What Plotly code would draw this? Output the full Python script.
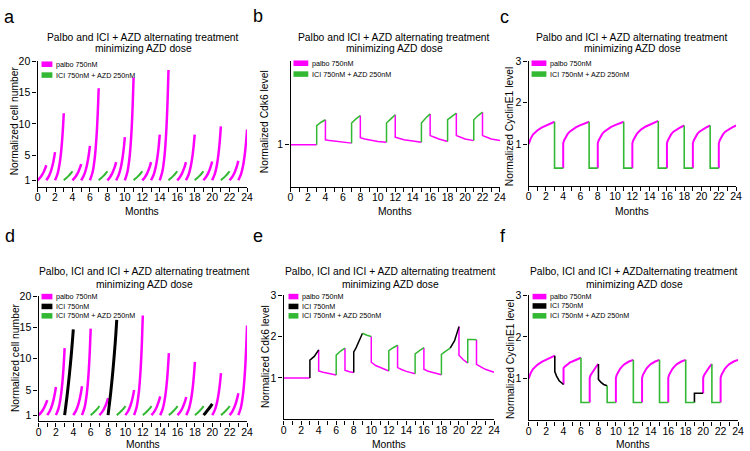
import plotly.graph_objects as go

MAGENTA = "#FF00FF"
GREEN = "#33B833"
BLACK = "#000000"
FONT = "Liberation Sans, Arial, sans-serif"

W, H = 750, 451

MONTH_TICKS = list(range(0, 25))
MONTH_LABELS = [str(m) if m % 2 == 0 else "" for m in MONTH_TICKS]

# ---- cell number panels (a, d): each curve runs over one month
GROWTH_FRAC = [0, 0.3, 0.55, 0.75, 0.9, 1.0]

A_PALBO_START = [0, 1, 2, 4, 5, 6, 8, 9, 10, 12, 13, 14, 16, 17, 19, 20, 22, 23]
A_PALBO_VALUES = [
    [1, 1.44, 1.96, 2.50, 3.01, 3.4],
    [1, 1.67, 2.55, 3.59, 4.64, 5.5],
    [1, 2.09, 3.87, 6.33, 9.15, 11.7],
    [1, 1.47, 2.02, 2.61, 3.17, 3.6],
    [1, 1.75, 2.80, 4.07, 5.39, 6.5],
    [1, 2.28, 4.55, 7.89, 11.9, 15.7],
    [1, 1.50, 2.11, 2.78, 3.40, 3.9],
    [1, 1.86, 3.12, 4.71, 6.42, 7.9],
    [1, 2.36, 4.81, 8.52, 13.1, 17.4],
    [1, 1.50, 2.11, 2.78, 3.40, 3.9],
    [1, 1.89, 3.20, 4.89, 6.71, 8.3],
    [1, 2.40, 4.99, 8.95, 13.9, 18.6],
    [1, 1.50, 2.11, 2.78, 3.40, 3.9],
    [1, 1.89, 3.20, 4.89, 6.71, 8.3],
    [1, 1.52, 2.14, 2.83, 3.48, 4.0],
    [1, 1.97, 3.47, 5.46, 7.66, 9.6],
    [1, 1.53, 2.17, 2.88, 3.56, 4.1],
    [1, 1.94, 3.37, 5.24, 7.29, 9.1],
]
A_COMBO_START = [3, 7, 11, 15, 18, 21]
COMBO_GROWTH = [1, 1.35, 1.70, 2.00, 2.25, 2.45]

D_PALBO_START = [0, 1, 2, 4, 5, 7, 10, 11, 13, 14, 16, 17, 20, 22, 23]
D_PALBO_VALUES = [
    [1, 1.44, 1.96, 2.50, 3.01, 3.4],
    [1, 1.67, 2.55, 3.59, 4.64, 5.5],
    [1, 2.09, 3.87, 6.33, 9.15, 11.7],
    [1, 1.68, 2.58, 3.64, 4.72, 5.6],
    [1, 2.24, 4.40, 7.55, 11.3, 14.8],
    [1, 1.48, 2.05, 2.67, 3.25, 3.7],
    [1, 1.62, 2.42, 3.34, 4.26, 5.0],
    [1, 2.34, 4.73, 8.33, 12.7, 16.9],
    [1, 1.52, 2.14, 2.83, 3.48, 4.0],
    [1, 2.05, 3.72, 6.00, 8.59, 10.9],
    [1, 1.50, 2.11, 2.78, 3.40, 3.9],
    [1, 1.96, 3.45, 5.41, 7.58, 9.5],
    [1, 1.84, 3.07, 4.62, 6.28, 7.7],
    [1, 1.57, 2.29, 3.09, 3.87, 4.5],
    [1, 2.27, 4.48, 7.74, 11.7, 15.3],
]
D_ICI_START = [3, 8, 19]
D_ICI_VALUES = [
    [1, 4.3, 7.5, 10.4, 12.9, 14.7],
    [1, 4.5, 8.0, 11.2, 14.0, 16.2],
    [1, 1.5, 1.95, 2.3, 2.6, 2.8],
]
D_COMBO_START = [6, 9, 12, 15, 18, 21]

# ---- protein level panels: (start month, offsets in months, values)
OFFS_3 = [0, 0, 0.1, 0.25, 0.5, 0.75, 1, 1.5, 2, 2.5, 3]
OFFS_2 = [0, 0, 0.1, 0.25, 0.5, 0.75, 1, 1.5, 2]
OFFS_1 = [0, 0, 0.1, 0.25, 0.5, 0.75, 1]
DROP = [0, 0, 1]

B_PALBO = [
    (0, [0, 3], [1.0, 1.0]),
    (4, [0, 0, 0.5, 1, 2, 3], [1.30, 1.06, 1.05, 1.045, 1.03, 1.02]),
    (8, [0, 0, 0.5, 1, 2, 3], [1.35, 1.085, 1.07, 1.06, 1.04, 1.03]),
    (12, [0, 0, 0.5, 1, 2, 3], [1.36, 1.09, 1.075, 1.06, 1.045, 1.03]),
    (16, [0, 0, 0.5, 1, 2], [1.37, 1.11, 1.09, 1.07, 1.04]),
    (19, [0, 0, 0.5, 1, 2], [1.38, 1.11, 1.09, 1.07, 1.05]),
    (22, [0, 0, 0.5, 1, 2], [1.39, 1.11, 1.09, 1.07, 1.05]),
]
B_COMBO = [
    (3, [0, 0, 0.5, 1], [1.00, 1.23, 1.27, 1.30]),
    (7, [0, 0, 0.5, 1], [1.02, 1.26, 1.31, 1.35]),
    (11, [0, 0, 0.5, 1], [1.03, 1.26, 1.31, 1.36]),
    (15, [0, 0, 0.5, 1], [1.03, 1.26, 1.32, 1.37]),
    (18, [0, 0, 0.5, 1], [1.04, 1.30, 1.34, 1.38]),
    (21, [0, 0, 0.5, 1], [1.05, 1.30, 1.35, 1.39]),
]

C_PALBO = [
    (0, OFFS_3, [1.00, 1.00, 1.07, 1.14, 1.23, 1.29, 1.33, 1.40, 1.45, 1.50, 1.54]),
    (4, OFFS_3, [0.42, 1.02, 1.09, 1.15, 1.24, 1.30, 1.34, 1.41, 1.46, 1.50, 1.54]),
    (8, OFFS_3, [0.42, 1.02, 1.09, 1.15, 1.24, 1.30, 1.34, 1.41, 1.46, 1.50, 1.54]),
    (12, OFFS_3, [0.42, 1.02, 1.09, 1.15, 1.24, 1.30, 1.35, 1.42, 1.47, 1.52, 1.56]),
    (16, OFFS_2, [0.42, 1.02, 1.09, 1.15, 1.24, 1.30, 1.34, 1.40, 1.45]),
    (19, OFFS_2, [0.42, 1.02, 1.09, 1.15, 1.24, 1.30, 1.34, 1.40, 1.45]),
    (22, OFFS_2, [0.42, 1.02, 1.09, 1.15, 1.24, 1.30, 1.34, 1.40, 1.45]),
]
C_COMBO = [
    (3, DROP, [1.54, 0.42, 0.42]),
    (7, DROP, [1.54, 0.42, 0.42]),
    (11, DROP, [1.54, 0.42, 0.42]),
    (15, DROP, [1.56, 0.42, 0.42]),
    (18, DROP, [1.45, 0.42, 0.42]),
    (21, DROP, [1.45, 0.42, 0.42]),
]

E_PALBO = [
    (0, [0, 3], [1.0, 1.0]),
    (4, [0, 0, 0.5, 1, 2], [1.68, 1.17, 1.14, 1.12, 1.07]),
    (7, [0, 0, 0.5, 1], [1.72, 1.19, 1.15, 1.13]),
    (10, [0, 0, 0.5, 1, 2], [2.00, 1.38, 1.30, 1.25, 1.17]),
    (13, [0, 0, 0.5, 1, 2], [1.79, 1.25, 1.20, 1.16, 1.10]),
    (16, [0, 0, 0.5, 1, 2], [1.73, 1.21, 1.16, 1.13, 1.08]),
    (20, [0, 0, 0.5, 1], [2.24, 1.55, 1.44, 1.36]),
    (22, [0, 0, 0.5, 1, 2], [1.92, 1.33, 1.27, 1.21, 1.14]),
]
E_ICI = [
    (3, [0, 0, 0.5, 1], [1.00, 1.43, 1.52, 1.68]),
    (8, [0, 0, 0.25, 0.5, 0.75, 1], [1.13, 1.63, 1.72, 1.85, 1.97, 2.08]),
    (19, [0, 0.5, 1], [1.72, 1.90, 2.24]),
]
E_COMBO = [
    (6, [0, 0, 0.5, 1], [1.07, 1.55, 1.65, 1.72]),
    (9, [0, 0.5, 1], [2.08, 2.03, 2.00]),
    (12, [0, 0, 0.5, 1], [1.17, 1.66, 1.73, 1.79]),
    (15, [0, 0, 0.5, 1], [1.10, 1.58, 1.66, 1.73]),
    (18, [0, 0, 0.5, 1], [1.08, 1.57, 1.65, 1.72]),
    (21, [0, 0, 0.5, 1], [1.36, 1.93, 1.93, 1.92]),
]

F_PALBO = [
    (0, OFFS_3, [1.00, 1.00, 1.07, 1.14, 1.23, 1.29, 1.33, 1.40, 1.45, 1.50, 1.55]),
    (4, OFFS_2, [0.86, 1.25, 1.28, 1.31, 1.36, 1.39, 1.41, 1.46, 1.50]),
    (7, OFFS_1, [0.43, 1.02, 1.08, 1.13, 1.22, 1.29, 1.35]),
    (10, OFFS_2, [0.43, 1.02, 1.09, 1.15, 1.24, 1.30, 1.35, 1.41, 1.45]),
    (13, OFFS_2, [0.43, 1.02, 1.09, 1.15, 1.24, 1.30, 1.35, 1.41, 1.45]),
    (16, OFFS_2, [0.43, 1.02, 1.09, 1.15, 1.24, 1.30, 1.35, 1.41, 1.45]),
    (20, OFFS_1, [0.65, 1.02, 1.08, 1.13, 1.22, 1.29, 1.35]),
    (22, OFFS_2, [0.43, 1.02, 1.09, 1.15, 1.24, 1.30, 1.35, 1.41, 1.45]),
]
F_ICI = [
    (3, [0, 0, 0.2, 0.5, 1], [1.55, 1.17, 1.06, 0.95, 0.86]),
    (8, [0, 0, 0.3, 0.6, 1], [1.35, 0.98, 0.91, 0.86, 0.83]),
    (19, DROP, [0.43, 0.65, 0.65]),
]
F_COMBO = [
    (6, DROP, [1.50, 0.43, 0.43]),
    (9, DROP, [0.83, 0.43, 0.43]),
    (12, DROP, [1.45, 0.43, 0.43]),
    (15, DROP, [1.45, 0.43, 0.43]),
    (18, DROP, [1.45, 0.43, 0.43]),
    (21, DROP, [1.35, 0.43, 0.43]),
]

TITLE_TOP = ["Palbo and ICI + AZD alternating treatment", "minimizing AZD dose"]
TITLE_D = ["Palbo, ICI and ICI + AZD alternating treatment", "minimizing AZD dose"]
TITLE_F = ["Palbo, ICI and ICI + AZDalternating treatment", "minimizing AZD dose"]
LEGEND_2 = [("palbo 750nM", MAGENTA), ("ICI 750nM + AZD 250nM", GREEN)]
LEGEND_3 = [("palbo 750nM", MAGENTA), ("ICI 750nM", BLACK), ("ICI 750nM + AZD 250nM", GREEN)]


def seg_xy(segments):
    xs, ys = [], []
    for start, offs, vals in segments:
        xs += [start + o for o in offs] + [None]
        ys += list(vals) + [None]
    return xs, ys


def growth(starts, values):
    return [(s, GROWTH_FRAC, v) for s, v in zip(starts, values)]


def px(x):
    return x / W


def py(y):
    return 1 - y / H


fig = go.Figure()

# panel layout in pixels: x0, x1, y_top, y_bottom
panels = [
    dict(letter="a", box=(35, 247, 56, 183), yr=[0, 20], yt=[1, 5, 10, 15, 20],
         ytitle="Normalized cell number", title=TITLE_TOP, tcx=142, ty=(32, 43),
         ytx=12, ytc=116, leg=LEGEND_2, lbox=(39, 50), lrows=[59, 70], ltx=52, lc=(7, 11), my=208),
    dict(letter="b", box=(291, 503, 56, 183), yr=[0.5, 2], yt=[1],
         ytitle="Normalized Cdk6 level", title=TITLE_TOP, tcx=396, ty=(32, 43),
         ytx=265, ytc=117, leg=LEGEND_2, lbox=(294, 309), lrows=[58, 69], ltx=311, lc=(258, 10), my=208),
    dict(letter="c", box=(532, 742, 56, 182), yr=[0, 3], yt=[1, 2, 3],
         ytitle="Normalized CyclinE1 level", title=TITLE_TOP, tcx=637, ty=(32, 43),
         ytx=513, ytc=122, leg=LEGEND_2, lbox=(535, 550), lrows=[58, 69], ltx=552, lc=(508, 11), my=208),
    dict(letter="d", box=(36, 247, 294, 421), yr=[0, 20], yt=[1, 5, 10, 15, 20],
         ytitle="Normalized cell number", title=TITLE_D, tcx=143, ty=(269, 282),
         ytx=12, ytc=356, leg=LEGEND_3, lbox=(39, 50), lrows=[294.5, 304.5, 314], ltx=52, lc=(7, 233), my=444),
    dict(letter="e", box=(284, 497, 293, 419), yr=[0, 3], yt=[1, 2, 3],
         ytitle="Normalized Cdk6 level", title=TITLE_D, tcx=392, ty=(269, 282),
         ytx=265, ytc=355, leg=LEGEND_3, lbox=(289, 299), lrows=[294.5, 304.5, 314], ltx=301, lc=(258, 233), my=444),
    dict(letter="f", box=(532, 744, 293, 420), yr=[0, 3], yt=[1, 2, 3],
         ytitle="Normalized CyclinE1 level", title=TITLE_F, tcx=639, ty=(269, 282),
         ytx=513, ytc=358, leg=LEGEND_3, lbox=(536, 550), lrows=[294.5, 304, 314], ltx=552, lc=(506, 233), my=444),
]

traces = [
    (1, growth(A_PALBO_START, A_PALBO_VALUES), MAGENTA, 2.5, "spline"),
    (1, growth(A_COMBO_START, [COMBO_GROWTH] * len(A_COMBO_START)), GREEN, 2.0, "spline"),
    (2, B_PALBO, MAGENTA, 1.5, "linear"),
    (2, B_COMBO, GREEN, 1.5, "linear"),
    (3, C_PALBO, MAGENTA, 2.0, "linear"),
    (3, C_COMBO, GREEN, 1.6, "linear"),
    (4, growth(D_PALBO_START, D_PALBO_VALUES), MAGENTA, 2.5, "spline"),
    (4, growth(D_ICI_START, D_ICI_VALUES), BLACK, 3.0, "spline"),
    (4, growth(D_COMBO_START, [COMBO_GROWTH] * len(D_COMBO_START)), GREEN, 2.0, "spline"),
    (5, E_PALBO, MAGENTA, 1.5, "linear"),
    (5, E_ICI, BLACK, 1.5, "linear"),
    (5, E_COMBO, GREEN, 1.5, "linear"),
    (6, F_PALBO, MAGENTA, 2.0, "linear"),
    (6, F_ICI, BLACK, 1.6, "linear"),
    (6, F_COMBO, GREEN, 1.6, "linear"),
]

for n, segs, color, width, shape in traces:
    xs, ys = seg_xy(segs)
    sfx = "" if n == 1 else str(n)
    fig.add_trace(go.Scatter(
        x=xs, y=ys, mode="lines", xaxis="x" + sfx, yaxis="y" + sfx,
        line=dict(color=color, width=width, shape=shape, smoothing=0.8),
        connectgaps=False, showlegend=False, hoverinfo="skip",
    ))

annotations = []
shapes = []
layout_axes = {}
for i, p in enumerate(panels, start=1):
    x0, x1, yt, yb = p["box"]
    sfx = "" if i == 1 else str(i)
    layout_axes["xaxis" + sfx] = dict(
        domain=[px(x0), px(x1)], range=[0, 24], anchor="y" + sfx,
        tickmode="array", tickvals=MONTH_TICKS, ticktext=MONTH_LABELS,
        ticks="outside", ticklen=4, tickwidth=1.2, tickcolor=BLACK, ticklabelstandoff=-3,
        showline=True, linecolor=BLACK, linewidth=1.4, showgrid=False, zeroline=False,
        tickfont=dict(family=FONT, size=10.5, color=BLACK),
    )
    layout_axes["yaxis" + sfx] = dict(
        domain=[py(yb), py(yt)], range=p["yr"], anchor="x" + sfx,
        tickmode="array", tickvals=p["yt"], ticks="outside", ticklen=4, tickwidth=1.2,
        tickcolor=BLACK, showline=True, linecolor=BLACK, linewidth=1.4,
        showgrid=False, zeroline=False,
        tickfont=dict(family=FONT, size=10.5, color=BLACK),
    )
    # panel letter
    annotations.append(dict(
        x=px(p["lc"][0]), y=py(p["lc"][1]), xref="paper", yref="paper",
        text=p["letter"], showarrow=False, xanchor="center", yanchor="middle",
        font=dict(family=FONT, size=18, color=BLACK),
    ))
    # two-line title
    for line, ty in zip(p["title"], p["ty"]):
        annotations.append(dict(
            x=px(p["tcx"]), y=py(ty), xref="paper", yref="paper", text=line,
            showarrow=False, xanchor="center", yanchor="middle",
            font=dict(family=FONT, size=10.3, color=BLACK),
        ))
    # axis titles
    annotations.append(dict(
        x=px(p["ytx"]), y=py(p["ytc"]), xref="paper", yref="paper", text=p["ytitle"],
        textangle=-90, showarrow=False, xanchor="center", yanchor="middle",
        font=dict(family=FONT, size=10.3, color=BLACK),
    ))
    annotations.append(dict(
        x=px((x0 + x1) / 2), y=py(p["my"]), xref="paper", yref="paper", text="Months",
        showarrow=False, xanchor="center", yanchor="middle",
        font=dict(family=FONT, size=10.3, color=BLACK),
    ))
    # legend boxes
    for (label, color), ry in zip(p["leg"], p["lrows"]):
        shapes.append(dict(
            type="rect", xref="paper", yref="paper",
            x0=px(p["lbox"][0]), x1=px(p["lbox"][1]), y0=py(ry + 2.8), y1=py(ry - 2.8),
            fillcolor=color, line=dict(width=0),
        ))
        annotations.append(dict(
            x=px(p["ltx"]), y=py(ry), xref="paper", yref="paper", text=label,
            showarrow=False, xanchor="left", yanchor="middle",
            font=dict(family=FONT, size=7.2, color=BLACK),
        ))

fig.update_layout(
    width=W, height=H, margin=dict(l=0, r=0, t=0, b=0),
    paper_bgcolor="white", plot_bgcolor="white",
    annotations=annotations, shapes=shapes, showlegend=False,
    **layout_axes,
)

# the page body has a default margin; drop it so the figure sits at the top-left corner
fig.write_html(
    "out.html",
    config={"displayModeBar": False},
    post_script="document.body.style.margin='0';document.body.style.overflow='hidden';",
)
